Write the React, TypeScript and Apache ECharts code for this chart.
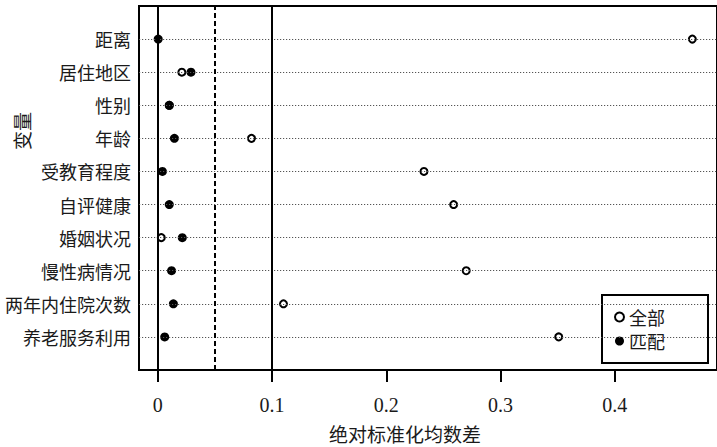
import React, { useEffect, useRef } from "react";
import * as echarts from "echarts";

const categories = ["距离", "居住地区", "性别", "年龄", "受教育程度", "自评健康", "婚姻状况", "慢性病情况", "两年内住院次数", "养老服务利用"];
const allValues = [0.468, 0.021, 0.010, 0.082, 0.233, 0.259, 0.003, 0.270, 0.110, 0.351];
const matchedValues = [0.0003, 0.029, 0.010, 0.0145, 0.004, 0.010, 0.0214, 0.012, 0.0136, 0.006];
const xTicks = [0, 0.1, 0.2, 0.3, 0.4];
const refLines = [0, 0.05, 0.1];
const seriesNames = ["全部", "匹配"];

const CJK = "'Noto Sans CJK SC', sans-serif";
const SERIF = "'Liberation Serif', 'DejaVu Serif', serif";

export default function App() {
  const ref = useRef<HTMLDivElement>(null);
  useEffect(() => {
    if (!ref.current) return;
    const chart = echarts.init(ref.current, null, { renderer: "svg" });
    const n = categories.length;
    const ypos = (i: number) => n - i;
    chart.setOption({
      animation: false,
      backgroundColor: "#fff",
      grid: {
        left: 139,
        top: 6,
        right: -4,
        bottom: 77,
        show: true,
        borderColor: "#000",
        borderWidth: 2,
        backgroundColor: "transparent",
      },
      xAxis: {
        type: "value",
        min: -0.0165,
        max: 0.4896,
        axisLine: { show: false },
        splitLine: { show: false },
        axisTick: {
          show: true,
          inside: false,
          length: 12,
          lineStyle: { color: "#000", width: 2 },
          customValues: xTicks,
        },
        axisLabel: {
          customValues: xTicks,
          margin: 25,
          fontSize: 20,
          fontFamily: SERIF,
          color: "#1a1a1a",
          formatter: (v: number) => String(Math.round(v * 10) / 10),
        },
      },
      yAxis: {
        type: "value",
        min: 0,
        max: n + 1,
        interval: 1,
        axisLine: { show: false },
        axisTick: { show: false },
        splitLine: { show: false },
        axisLabel: {
          margin: 8,
          fontSize: 18,
          fontFamily: CJK,
          color: "#1a1a1a",
          formatter: (v: number) => categories[n - v] ?? "",
        },
      },
      legend: {
        orient: "vertical",
        left: 602,
        top: 295,
        padding: [13, 43, 13, 12],
        itemGap: 6,
        itemWidth: 9,
        itemHeight: 9,
        borderColor: "#000",
        borderWidth: 2,
        borderRadius: 0,
        backgroundColor: "#fff",
        textStyle: { fontSize: 18, fontFamily: CJK, color: "#1a1a1a", lineHeight: 18 },
        data: [
          { name: seriesNames[0], icon: "circle", itemStyle: { color: "#fff", borderColor: "#000", borderWidth: 2 } },
          { name: seriesNames[1], icon: "circle", itemStyle: { color: "#000", borderColor: "#000", borderWidth: 0 } },
        ],
      },
      series: [
        {
          name: "rows",
          type: "scatter",
          data: [],
          z: 1,
          silent: true,
          markLine: {
            silent: true,
            symbol: ["none", "none"],
            label: { show: false },
            data: categories.map((_, i) => ({
              yAxis: ypos(i),
              lineStyle: { type: [1.2, 1.8], width: 1.2, color: "#555" },
            })),
          },
        },
        {
          name: "refs",
          type: "scatter",
          data: [],
          z: 2,
          silent: true,
          markLine: {
            silent: true,
            symbol: ["none", "none"],
            label: { show: false },
            data: refLines.map((v) => ({
              xAxis: v,
              lineStyle: { type: v === 0.05 ? [5, 3] : "solid", width: 2, color: "#000" },
            })),
          },
        },
        {
          name: seriesNames[0],
          type: "scatter",
          z: 3,
          symbol: "circle",
          symbolSize: 7,
          itemStyle: { color: "#fff", borderColor: "#000", borderWidth: 2, opacity: 1 },
          data: allValues.map((v, i) => [v, ypos(i)]),
        },
        {
          name: seriesNames[1],
          type: "scatter",
          z: 4,
          symbol: "circle",
          symbolSize: 9,
          itemStyle: { color: "#000", opacity: 1 },
          data: matchedValues.map((v, i) => [v, ypos(i)]),
        },
      ],
      graphic: [
        {
          type: "text",
          x: 405,
          y: 433,
          style: { text: "绝对标准化均数差", fontSize: 19, fontFamily: CJK, fill: "#1a1a1a", align: "center", verticalAlign: "middle" },
        },
        {
          type: "text",
          x: 21,
          y: 131,
          rotation: Math.PI / 2,
          style: { text: "变量", fontSize: 19, fontFamily: CJK, fill: "#1a1a1a", align: "center", verticalAlign: "middle" },
        },
      ],
    });
    return () => chart.dispose();
  }, []);
  return <div ref={ref} style={{ position: "fixed", left: 0, top: 0, width: 717, height: 447 }} />;
}
